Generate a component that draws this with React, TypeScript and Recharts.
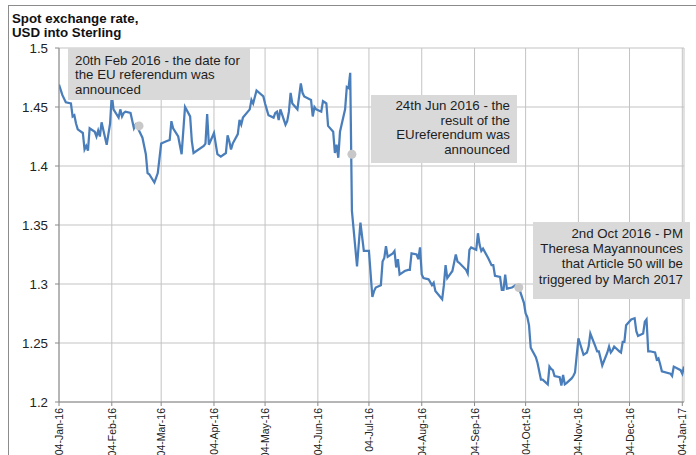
import React from "react";
import {
  ComposedChart,
  Line,
  Scatter,
  XAxis,
  YAxis,
  CartesianGrid,
} from "recharts";

// daily spot rate, USD into Sterling (business days)
const dates = [
  "2016-01-04", "2016-01-06", "2016-01-08", "2016-01-11", "2016-01-12", "2016-01-13", "2016-01-14", "2016-01-15", "2016-01-18", "2016-01-19", "2016-01-20", "2016-01-21", "2016-01-22", "2016-01-25", "2016-01-26", "2016-01-27", "2016-01-28", "2016-01-29",
  "2016-02-01", "2016-02-02", "2016-02-03", "2016-02-04", "2016-02-05", "2016-02-08", "2016-02-09", "2016-02-10", "2016-02-11", "2016-02-12", "2016-02-15", "2016-02-17", "2016-02-18", "2016-02-19", "2016-02-22", "2016-02-24", "2016-02-25", "2016-02-26", "2016-02-29",
  "2016-03-01", "2016-03-02", "2016-03-04", "2016-03-07", "2016-03-09", "2016-03-10", "2016-03-11", "2016-03-14", "2016-03-16", "2016-03-18", "2016-03-21", "2016-03-22", "2016-03-23", "2016-03-29", "2016-03-30", "2016-03-31",
  "2016-04-01", "2016-04-04", "2016-04-06", "2016-04-08", "2016-04-11", "2016-04-12", "2016-04-13", "2016-04-14", "2016-04-15", "2016-04-18", "2016-04-19", "2016-04-20", "2016-04-21", "2016-04-25", "2016-04-26", "2016-04-27", "2016-04-29",
  "2016-05-03", "2016-05-04", "2016-05-05", "2016-05-06", "2016-05-09", "2016-05-10", "2016-05-11", "2016-05-12", "2016-05-13", "2016-05-16", "2016-05-17", "2016-05-18", "2016-05-19", "2016-05-20", "2016-05-23", "2016-05-25", "2016-05-26", "2016-05-27", "2016-05-31",
  "2016-06-01", "2016-06-02", "2016-06-03", "2016-06-06", "2016-06-07", "2016-06-08", "2016-06-09", "2016-06-10", "2016-06-13", "2016-06-14", "2016-06-15", "2016-06-16", "2016-06-17", "2016-06-20", "2016-06-21", "2016-06-22", "2016-06-23", "2016-06-24", "2016-06-27", "2016-06-29",
  "2016-07-01", "2016-07-04", "2016-07-06", "2016-07-07", "2016-07-08", "2016-07-11", "2016-07-12", "2016-07-13", "2016-07-14", "2016-07-15", "2016-07-18", "2016-07-19", "2016-07-20", "2016-07-21", "2016-07-22", "2016-07-25", "2016-07-27", "2016-07-28", "2016-07-29",
  "2016-08-01", "2016-08-02", "2016-08-03", "2016-08-04", "2016-08-05", "2016-08-08", "2016-08-10", "2016-08-11", "2016-08-12", "2016-08-16", "2016-08-17", "2016-08-18", "2016-08-19", "2016-08-22", "2016-08-23", "2016-08-24", "2016-08-25", "2016-08-26", "2016-08-30", "2016-08-31",
  "2016-09-01", "2016-09-02", "2016-09-05", "2016-09-06", "2016-09-07", "2016-09-08", "2016-09-09", "2016-09-12", "2016-09-14", "2016-09-15", "2016-09-16", "2016-09-19", "2016-09-20", "2016-09-21", "2016-09-22", "2016-09-23", "2016-09-26", "2016-09-27", "2016-09-28", "2016-09-29", "2016-09-30",
  "2016-10-03", "2016-10-04", "2016-10-05", "2016-10-06", "2016-10-07", "2016-10-10", "2016-10-11", "2016-10-13", "2016-10-14", "2016-10-17", "2016-10-18", "2016-10-19", "2016-10-20", "2016-10-21", "2016-10-24", "2016-10-25", "2016-10-26", "2016-10-27", "2016-10-28", "2016-10-31",
  "2016-11-01", "2016-11-02", "2016-11-04", "2016-11-07", "2016-11-09", "2016-11-10", "2016-11-11", "2016-11-14", "2016-11-15", "2016-11-16", "2016-11-17", "2016-11-18", "2016-11-21", "2016-11-22", "2016-11-23", "2016-11-24", "2016-11-25", "2016-11-28", "2016-11-29", "2016-11-30",
  "2016-12-01", "2016-12-02", "2016-12-05", "2016-12-07", "2016-12-08", "2016-12-09", "2016-12-12", "2016-12-13", "2016-12-14", "2016-12-15", "2016-12-16", "2016-12-19", "2016-12-20", "2016-12-21", "2016-12-22", "2016-12-23", "2016-12-28", "2016-12-29", "2016-12-30",
  "2017-01-03", "2017-01-04", "2017-01-05",
];

const rates = [
  1.469, 1.46, 1.454, 1.453, 1.442, 1.443, 1.436, 1.431, 1.428, 1.414, 1.417, 1.413, 1.432, 1.429, 1.425, 1.43, 1.425, 1.437,
  1.418, 1.427, 1.436, 1.461, 1.448, 1.441, 1.448, 1.442, 1.445, 1.446, 1.445, 1.432, 1.435, 1.433, 1.424, 1.41, 1.394, 1.393, 1.386,
  1.39, 1.394, 1.419, 1.421, 1.422, 1.438, 1.432, 1.425, 1.41, 1.45, 1.442, 1.421, 1.411, 1.417, 1.419, 1.444,
  1.418, 1.428, 1.41, 1.408, 1.411, 1.426, 1.421, 1.414, 1.419, 1.427, 1.439, 1.435, 1.441, 1.448, 1.456, 1.453, 1.464,
  1.459, 1.453, 1.448, 1.443, 1.441, 1.445, 1.446, 1.439, 1.448, 1.435, 1.438, 1.446, 1.462, 1.453, 1.448, 1.47, 1.462, 1.459, 1.456,
  1.442, 1.45, 1.448, 1.446, 1.455, 1.454, 1.453, 1.434, 1.429, 1.411, 1.418, 1.407, 1.429, 1.448, 1.467, 1.466, 1.479, 1.362, 1.315, 1.352,
  1.328, 1.328, 1.289, 1.294, 1.297, 1.299, 1.319, 1.322, 1.332, 1.323, 1.326, 1.328, 1.314, 1.321, 1.308, 1.311, 1.312, 1.312, 1.326,
  1.325, 1.321, 1.331, 1.308, 1.305, 1.304, 1.299, 1.301, 1.294, 1.287, 1.299, 1.316, 1.305, 1.311, 1.318, 1.325, 1.319, 1.318, 1.312, 1.309,
  1.329, 1.331, 1.329, 1.343, 1.333, 1.328, 1.33, 1.322, 1.316, 1.316, 1.307, 1.306, 1.295, 1.295, 1.308, 1.296, 1.297, 1.298, 1.299, 1.298, 1.297,
  1.284, 1.275, 1.272, 1.265, 1.246, 1.238, 1.233, 1.219, 1.219, 1.215, 1.23, 1.228, 1.227, 1.222, 1.221, 1.214, 1.223, 1.215, 1.216, 1.22,
  1.222, 1.225, 1.254, 1.24, 1.242, 1.247, 1.258, 1.247, 1.243, 1.243, 1.237, 1.231, 1.242, 1.247, 1.242, 1.244, 1.247, 1.243, 1.242, 1.251,
  1.251, 1.265, 1.27, 1.271, 1.26, 1.256, 1.258, 1.268, 1.27, 1.243, 1.243, 1.242, 1.236, 1.237, 1.232, 1.226, 1.224, 1.222, 1.23,
  1.227, 1.224, 1.23,
];

// grey event markers
const eventDates = ["2016-02-20", "2016-06-24", "2016-09-30"];
const eventRates = [1.434, 1.41, 1.297];

const tickDates = [
  "2016-01-04", "2016-02-04", "2016-03-04", "2016-04-04", "2016-05-04", "2016-06-04", "2016-07-04",
  "2016-08-04", "2016-09-04", "2016-10-04", "2016-11-04", "2016-12-04", "2017-01-04",
];
const yTicks = [1.2, 1.25, 1.3, 1.35, 1.4, 1.45, 1.5];

const note1 = ["20th Feb 2016 - the date for", "the EU referendum was", "announced"];
const note2 = ["24th Jun 2016 - the", "result of the", "EUreferendum was", "announced"];
const note3 = ["2nd Oct 2016 - PM", "Theresa Mayannounces", "that Article 50 will be", "triggered by March 2017"];

const MONTHS = ["Jan", "Feb", "Mar", "Apr", "May", "Jun", "Jul", "Aug", "Sep", "Oct", "Nov", "Dec"];
const FONT = '"Liberation Sans", Arial, sans-serif';

const toT = (s: string) => Date.UTC(+s.slice(0, 4), +s.slice(5, 7) - 1, +s.slice(8, 10));

const fmtDate = (t: number) => {
  const d = new Date(t);
  const dd = String(d.getUTCDate()).padStart(2, "0");
  return `${dd}-${MONTHS[d.getUTCMonth()]}-${String(d.getUTCFullYear()).slice(2)}`;
};

const data = dates.map((d, i) => ({ t: toT(d), rate: rates[i] }));
const events = eventDates.map((d, i) => ({ t: toT(d), rate: eventRates[i] }));

const MonthTick = ({ x, y, payload }: any) => (
  <g transform={`translate(${x},${y})`}>
    <text
      transform="rotate(-90)"
      textAnchor="end"
      x={0}
      y={4}
      fontSize={10.5}
      fontFamily={FONT}
      fill="#222"
    >
      {fmtDate(payload.value)}
    </text>
  </g>
);

const Note = ({ lines, style, align }: { lines: string[]; style: React.CSSProperties; align: "left" | "right" }) => (
  <div
    style={{
      position: "absolute",
      background: "#d9d9d9",
      boxSizing: "border-box",
      fontFamily: FONT,
      fontSize: 13.3,
      color: "#1e1e1e",
      textAlign: align,
      whiteSpace: "nowrap",
      ...style,
    }}
  >
    {lines.map((l) => (
      <div key={l}>{l}</div>
    ))}
  </div>
);

export default function App() {
  return (
    <div style={{ position: "absolute", left: 0, top: 0, width: 696, height: 455, overflow: "hidden", background: "#fff" }}>
      <div
        style={{
          position: "absolute",
          left: 8,
          top: 5,
          width: 700,
          height: 470,
          borderLeft: "1px solid #8c8c8c",
          borderTop: "1px solid #8c8c8c",
        }}
      />
      <div
        style={{
          position: "absolute",
          left: 12,
          top: 12,
          fontFamily: FONT,
          fontWeight: "bold",
          fontSize: 13.3,
          lineHeight: "14.3px",
          color: "#111",
        }}
      >
        Spot exchange rate,
        <br />
        USD into Sterling
      </div>

      <div style={{ position: "absolute", left: 0, top: 0 }}>
        <ComposedChart width={696} height={455} data={data} margin={{ top: 48, right: 12, bottom: 3, left: 0 }}>
          <CartesianGrid stroke="#c3c3c3" strokeWidth={1} />
          <XAxis
            dataKey="t"
            type="number"
            domain={[toT("2016-01-04"), toT("2017-01-05")]}
            ticks={tickDates.map(toT)}
            interval={0}
            tick={<MonthTick />}
            tickSize={4}
            height={50}
            stroke="#8a8a8a"
            allowDataOverflow
          />
          <YAxis
            type="number"
            domain={[1.2, 1.5]}
            ticks={yTicks}
            interval={0}
            width={59}
            tickSize={4}
            tickMargin={7}
            stroke="#8a8a8a"
            tick={{ fontSize: 13.3, fill: "#222", fontFamily: FONT }}
            tickFormatter={(v: number) => String(v)}
            allowDataOverflow
          />
          <Line
            dataKey="rate"
            type="linear"
            stroke="#4a7ebb"
            strokeWidth={2.25}
            dot={false}
            activeDot={false}
            isAnimationActive={false}
          />
          <Scatter
            data={events}
            dataKey="rate"
            isAnimationActive={false}
            shape={(p: any) => <circle cx={p.cx} cy={p.cy} r={4.5} fill="#c8c8c8" />}
          />
        </ComposedChart>
      </div>

      <Note
        lines={note1}
        align="left"
        style={{ left: 68, top: 48, width: 182, height: 52, paddingLeft: 7, paddingTop: 6, lineHeight: "14.3px" }}
      />
      <Note
        lines={note2}
        align="right"
        style={{ left: 371, top: 95, width: 146, height: 68, paddingRight: 7, paddingTop: 4, lineHeight: "14.7px" }}
      />
      <Note
        lines={note3}
        align="right"
        style={{ left: 533, top: 222, width: 157, height: 77, paddingRight: 7, paddingTop: 4, lineHeight: "15.2px" }}
      />
    </div>
  );
}
